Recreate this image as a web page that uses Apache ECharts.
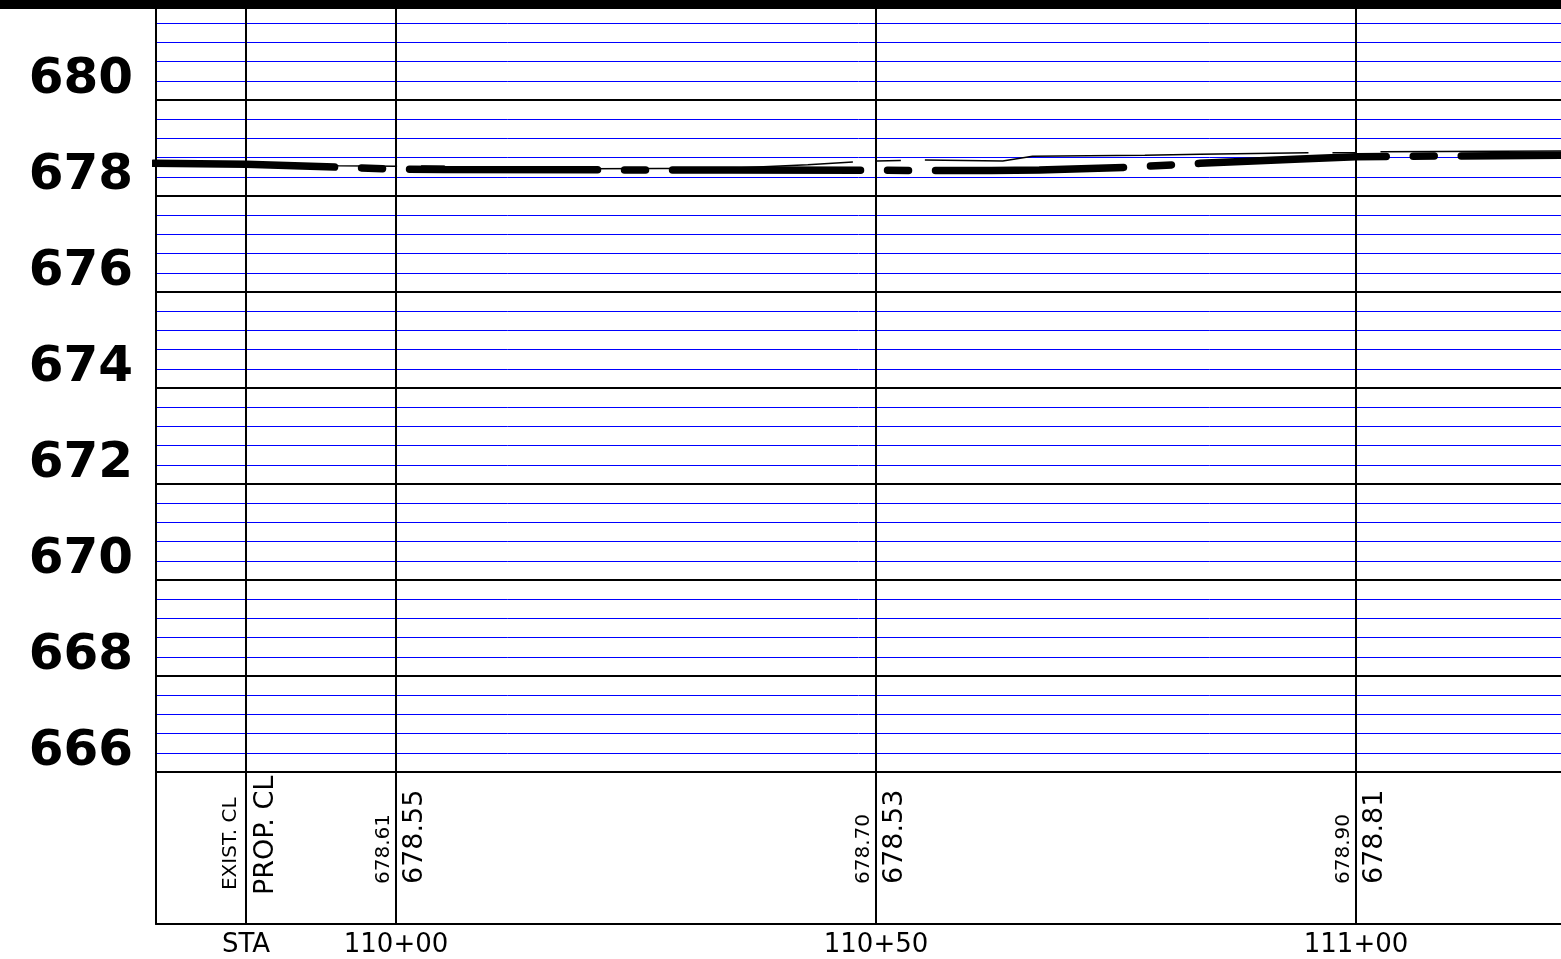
<!DOCTYPE html>
<html>
<head>
<meta charset="utf-8">
<title>Profile 110+00 - 111+00</title>
<script src="https://cdn.jsdelivr.net/npm/echarts@6/dist/echarts.min.js"></script>
<style>
  html, body { margin: 0; padding: 0; background: #fff; }
  .profile-container { width: 1561px; height: 959px; }
</style>
</head>
<body>
<div class="profile-container"></div>
<script>
// existing centerline (thin dashed)
const existSta = [10974.7, 10994, 11000, 11003, 11020, 11034.8, 11042.9, 11047.6, 11050, 11052.5, 11055, 11063.2, 11066.3, 11078, 11083.75, 11095, 11100, 11102.6, 11121.35];
const existElev = [678.70, 678.63, 678.62, 678.625, 678.57, 678.58, 678.65, 678.71, 678.73, 678.74, 678.75, 678.73, 678.83, 678.85, 678.87, 678.90, 678.905, 678.92, 678.94];

// proposed centerline (heavy dashed)
const propSta = [10974.7, 10984.4, 10994, 11000, 11005, 11035, 11050, 11062, 11067, 11076.5, 11083.75, 11094.2, 11100, 11121.35];
const propElev = [678.68, 678.66, 678.60, 678.56, 678.55, 678.54, 678.535, 678.53, 678.54, 678.60, 678.68, 678.77, 678.82, 678.85];

// table columns under the profile
const columnSta = [10984.375, 11000, 11050, 11100];
const existText = ['EXIST. CL', '678.61', '678.70', '678.90'];
const propText = ['PROP. CL', '678.55', '678.53', '678.81'];
const staText = ['STA', '110+00', '110+50', '111+00'];

const X_MIN = 10975;
const X_MAX = 11121.35;
const ELEV_MIN = 666;
const ELEV_MAX = 682;
const FONT = 'DejaVu Sans';
const LABEL_BASE = 0.263; // bottom of rotated texts inside the table band

const chartDom = document.querySelector('.profile-container');
const myChart = echarts.init(chartDom, null, { renderer: 'canvas' });

function zip(xs, ys) {
  return xs.map((x, i) => [x, ys[i]]);
}

const colLines = {
  silent: true,
  symbol: 'none',
  label: { show: false },
  lineStyle: { color: '#000', width: 2, type: 'solid', opacity: 1 },
  data: columnSta.map(s => ({ xAxis: s }))
};

function tableLabels(texts, offset, headOffset) {
  return columnSta.map((s, i) => ({
    value: [s, LABEL_BASE],
    label: {
      formatter: texts[i],
      offset: i === 0 ? headOffset : offset
    }
  }));
}

const labelBase = {
  show: true,
  position: 'inside',
  rotate: 90,
  align: 'left',
  verticalAlign: 'middle',
  color: '#000',
  opacity: 1,
  fontFamily: FONT
};

let option = {
  animation: false,
  backgroundColor: '#fff',
  grid: [
    { left: 156, right: 0, top: 4, height: 768, outerBoundsMode: 'none' },
    { left: 156, right: 0, top: 772, height: 152, outerBoundsMode: 'none' }
  ],
  xAxis: [
    { type: 'value', gridIndex: 0, min: X_MIN, max: X_MAX, show: false },
    {
      type: 'value',
      gridIndex: 1,
      min: X_MIN,
      max: X_MAX,
      axisLine: { show: true, lineStyle: { color: '#000', width: 2 } },
      axisTick: { show: false },
      splitLine: { show: false },
      axisLabel: {
        customValues: columnSta,
        formatter: v => staText[columnSta.indexOf(v)] || '',
        fontFamily: FONT,
        fontSize: 26,
        color: '#000',
        margin: 8
      }
    }
  ],
  yAxis: [
    {
      // blue 0.4 ft lines
      type: 'value',
      gridIndex: 0,
      position: 'left',
      min: ELEV_MIN,
      max: ELEV_MAX,
      interval: 0.4,
      axisLine: { show: false },
      axisTick: { show: false },
      axisLabel: { show: false },
      splitLine: { show: true, lineStyle: { color: '#0000ff', width: 1 } }
    },
    {
      // black 2 ft lines with the elevations
      type: 'value',
      gridIndex: 0,
      position: 'left',
      min: ELEV_MIN,
      max: ELEV_MAX,
      interval: 2,
      axisLine: { show: true, lineStyle: { color: '#000', width: 2 } },
      axisTick: { show: false },
      axisLabel: {
        formatter: v => (v >= ELEV_MAX ? '' : String(v)),
        fontFamily: FONT,
        fontWeight: 'bold',
        fontSize: 50,
        color: '#000',
        margin: 23,
        verticalAlign: 'bottom',
        lineHeight: 40
      },
      splitLine: { show: true, lineStyle: { color: '#000', width: 2 } }
    },
    {
      type: 'value',
      gridIndex: 1,
      min: 0,
      max: 1,
      axisLine: { show: true, lineStyle: { color: '#000', width: 2 } },
      axisTick: { show: false },
      axisLabel: { show: false },
      splitLine: { show: false }
    }
  ],
  series: [
    {
      name: 'PROP. CL',
      type: 'line',
      xAxisIndex: 0,
      yAxisIndex: 1,
      data: zip(propSta, propElev),
      symbol: 'none',
      clip: false,
      lineStyle: {
        color: '#000',
        width: 7.5,
        type: [188, 27, 21, 27],
        dashOffset: 6.5,
        cap: 'round'
      },
      markLine: colLines,
      z: 3
    },
    {
      name: 'EXIST. CL',
      type: 'line',
      xAxisIndex: 0,
      yAxisIndex: 1,
      data: zip(existSta, existElev),
      symbol: 'none',
      clip: false,
      lineStyle: {
        color: '#000',
        width: 1.5,
        type: [384, 24, 24, 24],
        dashOffset: 140
      },
      z: 4
    },
    {
      name: 'exist labels',
      type: 'scatter',
      xAxisIndex: 1,
      yAxisIndex: 2,
      symbolSize: 0,
      silent: true,
      itemStyle: { opacity: 1 },
      label: Object.assign({}, labelBase, { fontSize: 20 }),
      data: tableLabels(existText, [0, -12], [-6, -15]),
      markLine: colLines
    },
    {
      name: 'prop labels',
      type: 'scatter',
      xAxisIndex: 1,
      yAxisIndex: 2,
      symbolSize: 0,
      silent: true,
      itemStyle: { opacity: 1 },
      label: Object.assign({}, labelBase, { fontSize: 27 }),
      data: tableLabels(propText, [0, 19], [-11, 20])
    }
  ],
  graphic: [
    {
      // heavy sheet border along the top
      type: 'rect',
      shape: { x: 0, y: 0, width: 1561, height: 9 },
      style: { fill: '#000' },
      z: 100
    }
  ]
};

option && myChart.setOption(option);
</script>
</body>
</html>
